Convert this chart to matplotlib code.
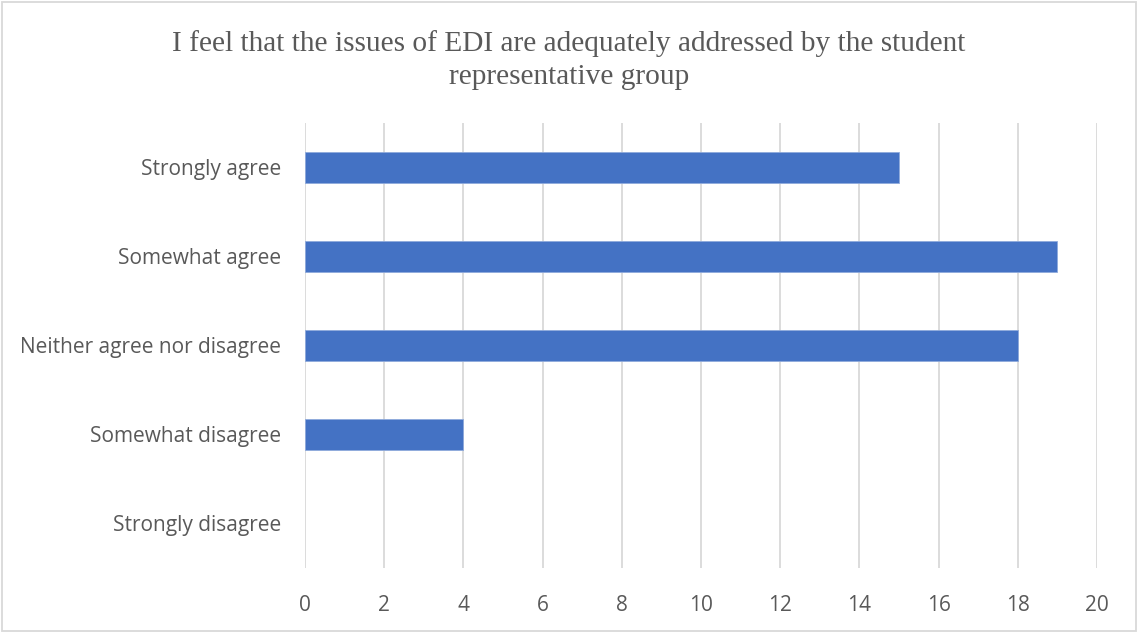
#Survey bar chart: EDI issues addressed by student representative group
import matplotlib as mpl
import matplotlib.pyplot as plt
from matplotlib.patches import Rectangle

#data
categories = ['Strongly agree', 'Somewhat agree', 'Neither agree nor disagree',
              'Somewhat disagree', 'Strongly disagree']
counts = [15, 19, 18, 4, 0]
x_ticks = [0, 2, 4, 6, 8, 10, 12, 14, 16, 18, 20]
title = 'I feel that the issues of EDI are adequately addressed by the student\nrepresentative group'

bar_color = '#4472C4'
text_color = '#595959'
grid_color = '#D9D9D9'

fig = plt.figure(figsize=(11.38, 6.33), dpi=100)
ax = fig.add_axes([0.268, 0.1027, 0.964 - 0.268, 0.8057 - 0.1027])

#top category first, like Excel
ypos = list(range(len(categories)))[::-1]
edges = ['#8FAADC' if c > 0 else 'none' for c in counts]
ax.barh(ypos, counts, height=0.35, color=bar_color, edgecolor=edges, linewidth=0.6, zorder=3)

ax.set_xlim(0, 20)
ax.set_ylim(-0.5, len(categories) - 0.5)
ax.set_xticks(x_ticks)
ax.set_yticks(ypos)
ax.set_yticklabels(categories)
ax.xaxis.grid(True, color=grid_color, linewidth=1.3, zorder=0)
for s in ax.spines.values():
    s.set_visible(False)
ax.tick_params(axis='both', length=0, colors=text_color, labelsize=15)
ax.tick_params(axis='y', pad=17)
ax.tick_params(axis='x', pad=19.5)
for lbl in ax.get_xticklabels() + ax.get_yticklabels():
    lbl.set_fontfamily('Open Sans')

fig.text(0.5, 0.905, title, ha='center', va='center', fontsize=21.2,
         family='Liberation Serif', color=text_color, linespacing=1.35)

#chart frame
fig.patches.append(Rectangle((0.002, 0.003), 0.996, 0.994, transform=fig.transFigure,
                             fill=False, edgecolor=grid_color, linewidth=1.3))

plt.savefig('out.png', dpi=100)
